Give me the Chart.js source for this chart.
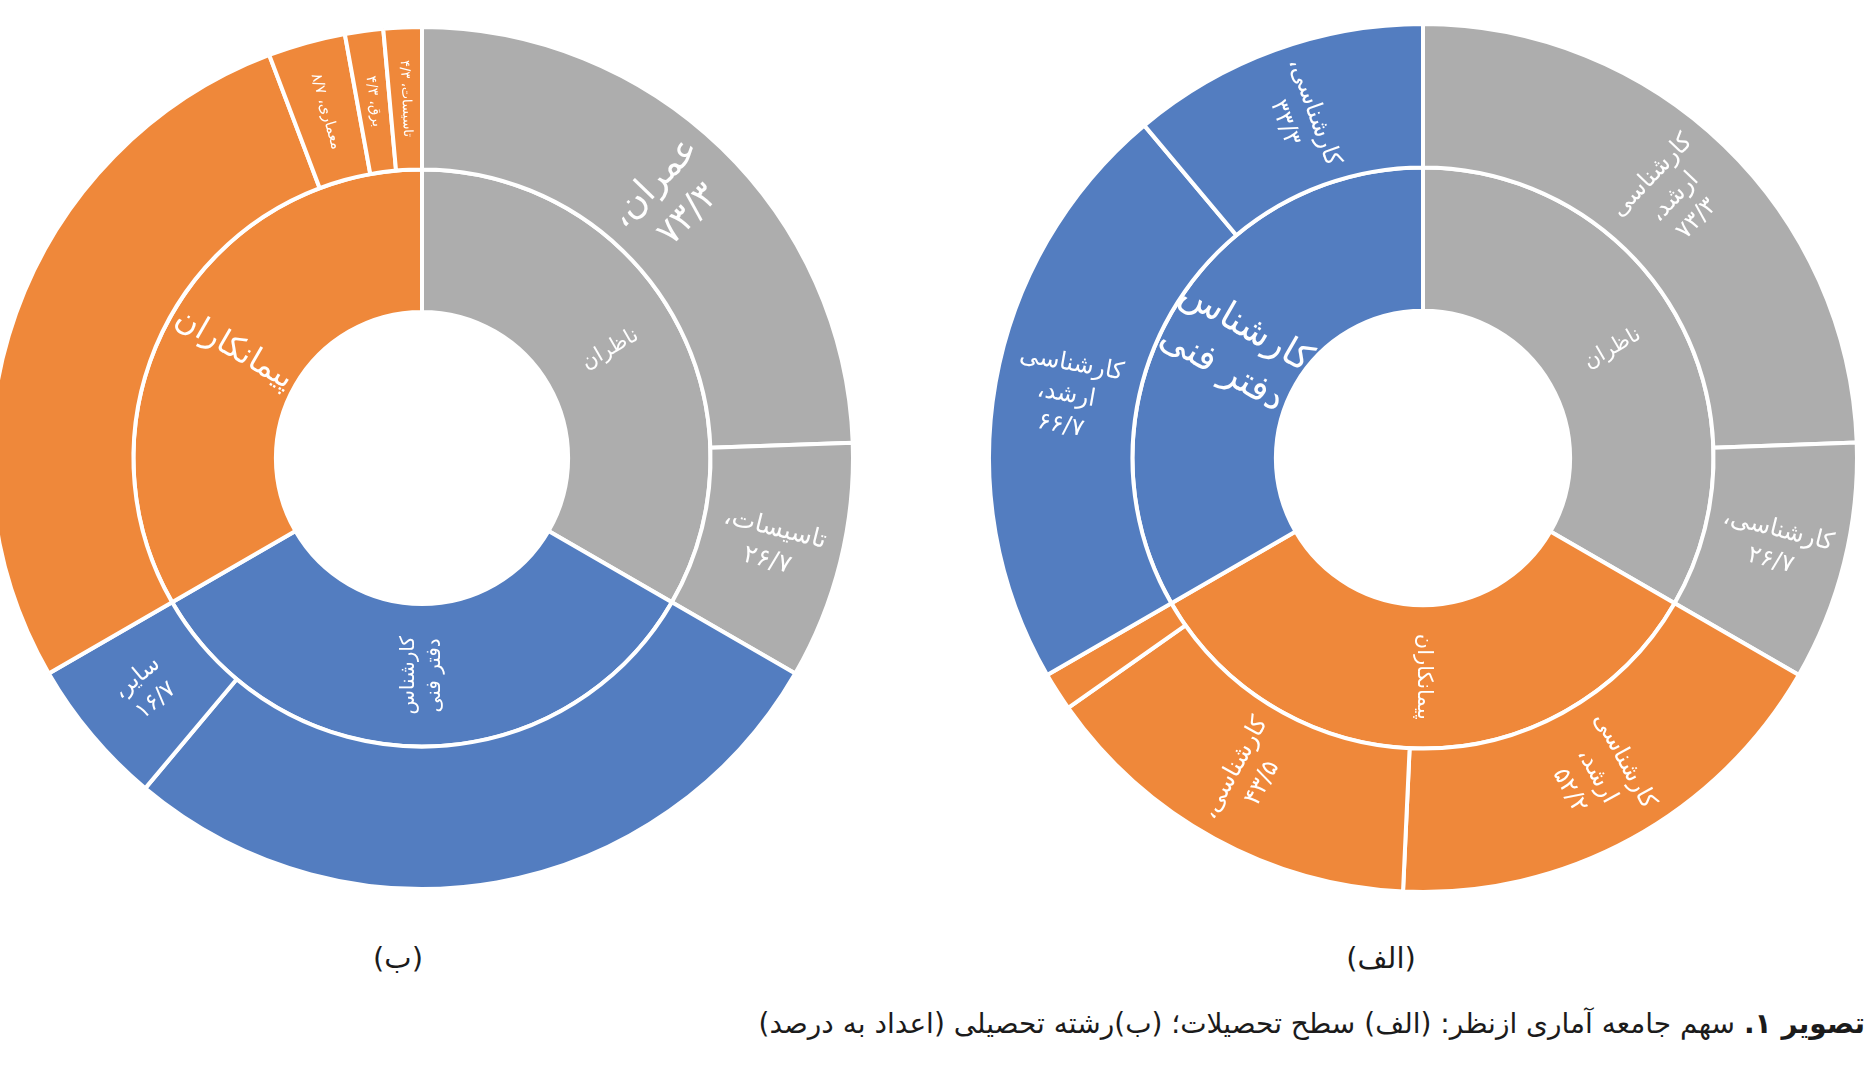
<!DOCTYPE html>
<html lang="fa">
<head>
<meta charset="utf-8">
<title>سهم جامعه آماری</title>
<script src="https://cdn.jsdelivr.net/npm/chart.js@4.4.0/dist/chart.umd.min.js"></script>
<style>
	html, body { margin: 0; padding: 0; background: #fff; }
	body { width: 1869px; height: 1092px; overflow: hidden; position: relative; font-family: "DejaVu Sans", sans-serif; }
	canvas { position: absolute; }
	#chart-b { left: -18px; top: 18px; }
	#chart-a { left: 983px; top: 18px; }
	.sub { position: absolute; top: 958px; transform: translate(-50%, -50%); font-size: 29px; color: #1b1b1b; white-space: nowrap; }
	.cap { position: absolute; right: 4px; top: 1007px; font-size: 28px; color: #1b1b1b; white-space: nowrap; }
</style>
</head>
<body>
<canvas id="chart-b" width="880" height="880"></canvas>
<canvas id="chart-a" width="880" height="880"></canvas>
<div class="sub" dir="rtl" style="left:398px">(ب)</div>
<div class="sub" dir="rtl" style="left:1381px">(الف)</div>
<div class="cap" dir="rtl"><b>تصویر ۱.</b> سهم جامعه آماری ازنظر: (الف) سطح تحصیلات؛ (ب)رشته تحصیلی (اعداد به درصد)</div>
<script>
// (الف) سطح تحصیلات - clockwise from top
var eduGroups = ['ناظران', 'پیمانکاران', 'کارشناس دفتر فنی'];
var eduGroupShare = [33.3, 33.3, 33.3];
var eduGroupLabels = [['ناظران'], ['پیمانکاران'], ['کارشناس', 'دفتر فنی']];
var eduOuterGroup = [0, 0, 1, 1, 1, 2, 2];
var eduOuterPct = [73.3, 26.7, 52.2, 43.5, 4.3, 66.7, 33.3];
var eduOuterLabels = [
	['کارشناسی', 'ارشد،', '۷۳/۳'],
	['کارشناسی،', '۲۶/۷'],
	['کارشناسی', 'ارشد،', '۵۲/۲'],
	['کارشناسی،', '۴۳/۵'],
	[],
	['کارشناسی', 'ارشد،', '۶۶/۷'],
	['کارشناسی،', '۳۳/۳']
];

// (ب) رشته تحصیلی - clockwise from top
var fieldGroups = ['ناظران', 'کارشناس دفتر فنی', 'پیمانکاران'];
var fieldGroupShare = [33.3, 33.3, 33.3];
var fieldGroupLabels = [['ناظران'], ['کارشناس', 'دفتر فنی'], ['پیمانکاران']];
var fieldOuterGroup = [0, 0, 1, 1, 2, 2, 2, 2];
var fieldOuterPct = [73.3, 26.7, 83.3, 16.7, 82.7, 8.7, 4.3, 4.3];
var fieldOuterLabels = [
	['عمران،', '۷۳/۳'],
	['تاسیسات،', '۲۶/۷'],
	[],
	['سایر،', '۱۶/۷'],
	[],
	['معماری، ۸/۷'],
	['برق، ۴/۳'],
	['تاسیسات، ۴/۳']
];

var colors = {
	'ناظران': 'rgb(173, 173, 173)',
	'پیمانکاران': 'rgb(239, 136, 58)',
	'کارشناس دفتر فنی': 'rgb(83, 125, 192)'
};

// Writes rotated white text in the middle of every arc
var ringLabels = {
	id: 'ringLabels',
	afterDatasetsDraw: function (chart) {
		var opts = chart.options.plugins.ringLabels;
		var ctx = chart.ctx;
		chart.data.datasets.forEach(function (ds, di) {
			var meta = chart.getDatasetMeta(di);
			meta.data.forEach(function (arc, i) {
				var lines = opts.texts[di][i];
				if (!lines || !lines.length) return;
				var p = arc.getProps(['x', 'y', 'startAngle', 'endAngle', 'innerRadius', 'outerRadius'], true);
				var mid = (p.startAngle + p.endAngle) / 2;
				var r = (p.innerRadius + p.outerRadius) / 2;
				var deg = Math.round(((mid * 180 / Math.PI + 90) % 360 + 360) % 360 * 100) / 100;
				var rot = deg < 180 ? mid : mid - Math.PI;
				if (opts.flip[di + '-' + i]) rot += Math.PI;
				var size = opts.sizes[di][i];
				var lh = size * 1.3;
				ctx.save();
				ctx.translate(p.x + Math.cos(mid) * r, p.y + Math.sin(mid) * r);
				ctx.rotate(rot);
				ctx.fillStyle = '#fff';
				ctx.font = size + 'px "DejaVu Sans"';
				ctx.textAlign = 'center';
				ctx.textBaseline = 'middle';
				ctx.direction = 'rtl';
				lines.forEach(function (line, k) {
					ctx.fillText(line, 0, (k - (lines.length - 1) / 2) * lh);
				});
				ctx.restore();
			});
		});
	}
};

function buildChart(el, groups, share, outerGroup, outerPct, radius, texts, sizes, flip) {
	var outerValues = outerPct.map(function (v, i) {
		return share[outerGroup[i]] * v / 100;
	});
	var outerColors = outerGroup.map(function (g) { return colors[groups[g]]; });
	return new Chart(el, {
		type: 'doughnut',
		data: {
			labels: outerPct.map(String),
			datasets: [{
				data: outerValues,
				backgroundColor: outerColors,
				borderColor: '#fff',
				borderWidth: 4
			}, {
				data: share,
				backgroundColor: groups.map(function (g) { return colors[g]; }),
				borderColor: '#fff',
				borderWidth: 4
			}]
		},
		options: {
			responsive: false,
			animation: false,
			devicePixelRatio: 1,
			radius: radius,
			cutout: '33.9%',
			layout: { padding: 0 },
			plugins: {
				legend: { display: false },
				tooltip: { enabled: false },
				ringLabels: { texts: texts, sizes: sizes, flip: flip }
			}
		},
		plugins: [ringLabels]
	});
}

buildChart(document.getElementById('chart-b'), fieldGroups, fieldGroupShare, fieldOuterGroup, fieldOuterPct, 431,
	[fieldOuterLabels, fieldGroupLabels],
	[[36, 25, 0, 23, 0, 15, 14, 13], [21, 20, 32]],
	{});

buildChart(document.getElementById('chart-a'), eduGroups, eduGroupShare, eduOuterGroup, eduOuterPct, 434,
	[eduOuterLabels, eduGroupLabels],
	[[24, 24, 24, 24, 0, 24, 24], [21, 21, 37]],
	{'1-1': true});
</script>
</body>
</html>
